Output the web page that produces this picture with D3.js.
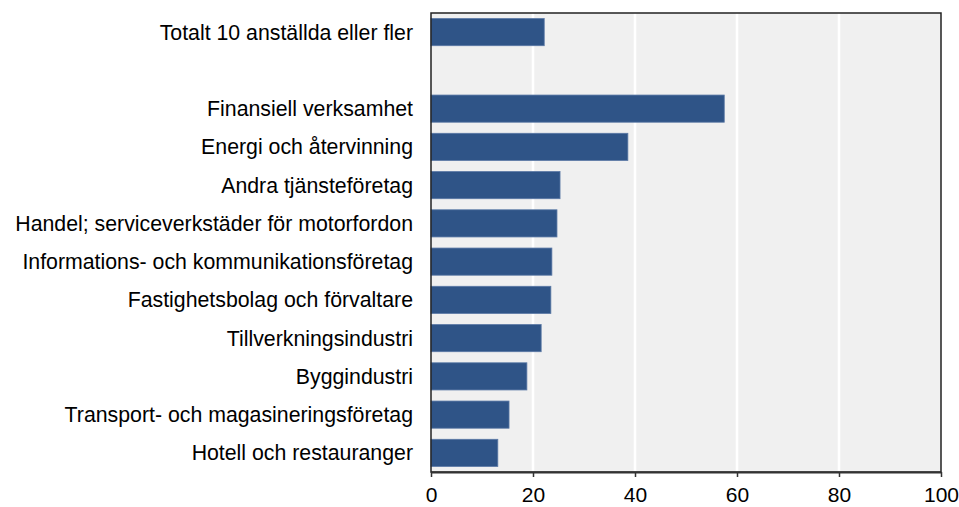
<!DOCTYPE html>
<html><head><meta charset="utf-8">
<script src="https://cdn.jsdelivr.net/npm/d3@7"></script>
<style>body{margin:0;background:#fff;} text{font-family:"Liberation Sans",Arial,sans-serif;}</style>
</head><body>
<svg id="c" width="959" height="507"></svg>
<script>
const categories = ["Totalt 10 anställda eller fler", "", "Finansiell verksamhet", "Energi och återvinning", "Andra tjänsteföretag", "Handel; serviceverkstäder för motorfordon", "Informations- och kommunikationsföretag", "Fastighetsbolag och förvaltare", "Tillverkningsindustri", "Byggindustri", "Transport- och magasineringsföretag", "Hotell och restauranger"];
const values = [22.2, null, 57.5, 38.6, 25.3, 24.7, 23.7, 23.5, 21.6, 18.8, 15.3, 13.1];
const xTicks = [0, 20, 40, 60, 80, 100];

const svg = d3.select("#c");
const m = {l: 431, r: 941, t: 13, b: 472};
const x = d3.scaleLinear().domain([0, 100]).range([m.l, m.r]);
const y = d3.scaleBand().domain(categories.map((c, i) => i)).range([m.t, m.b]).paddingInner(0.29).paddingOuter(0.145);

svg.append("rect").attr("x", m.l).attr("y", m.t).attr("width", m.r - m.l).attr("height", m.b - m.t).attr("fill", "#f0f0f0");
svg.append("g").selectAll("line").data(xTicks.slice(1, -1)).join("line")
  .attr("x1", d => x(d)).attr("x2", d => x(d)).attr("y1", m.t).attr("y2", m.b)
  .attr("stroke", "#fff").attr("stroke-width", 2.5);

svg.append("g").selectAll("rect").data(values.map((v, i) => ({v, i})).filter(d => d.v != null)).join("rect")
  .attr("x", x(0)).attr("y", d => y(d.i)).attr("width", d => x(d.v) - x(0)).attr("height", y.bandwidth())
  .attr("fill", "#2f5487").attr("stroke", "#5a78a5").attr("stroke-width", 0.8);

svg.append("rect").attr("x", m.l).attr("y", m.t).attr("width", m.r - m.l).attr("height", m.b - m.t)
  .attr("fill", "none").attr("stroke", "#222").attr("stroke-width", 1.5);

const xa = svg.append("g").attr("transform", `translate(0,${m.b})`)
  .call(d3.axisBottom(x).tickValues(xTicks).tickSize(5).tickSizeOuter(0).tickPadding(10));
xa.select(".domain").attr("stroke", "#333").attr("stroke-width", 2);
xa.selectAll(".tick line").attr("stroke", "#333").attr("stroke-width", 1.5);
xa.selectAll("text").attr("font-size", 21).attr("fill", "#000").attr("font-family", "Liberation Sans, Arial, sans-serif");

svg.append("g").selectAll("text").data(categories.map((c, i) => ({c, i}))).join("text")
  .attr("x", 413).attr("y", d => y(d.i) + y.bandwidth() / 2).attr("dy", "0.35em")
  .attr("text-anchor", "end").attr("font-size", 21.3).attr("fill", "#000").text(d => d.c);
</script>
</body></html>
